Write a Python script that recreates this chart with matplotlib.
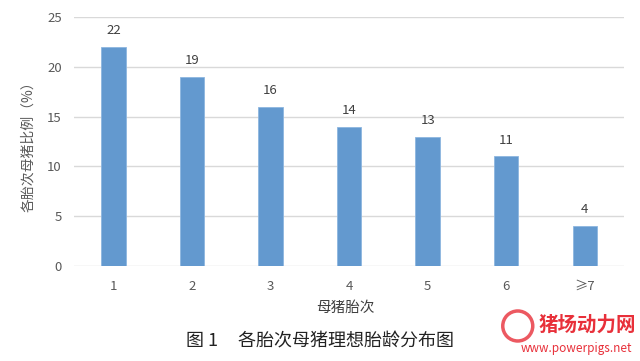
import numpy as np
import matplotlib.pyplot as plt
from matplotlib.patches import Ellipse

plt.rcParams['font.family'] = ['Noto Sans CJK SC', 'DejaVu Sans']

parity = ['1', '2', '3', '4', '5', '6', '≥7']
share = [22, 19, 16, 14, 13, 11, 4]

fig = plt.figure(figsize=(6.4, 3.61), dpi=100)
ax = fig.add_axes([0.116, 0.263, 0.859, 0.690])

x = np.arange(len(parity))
bars = ax.bar(x, share, width=0.31, color='#6399CF', edgecolor='#8DB6E0', linewidth=0.6, zorder=3)
for xi, v in zip(x, share):
    ax.annotate(str(v), (xi, v), xytext=(0, 7), textcoords='offset points',
                ha='center', va='bottom', fontsize=9.5, color='#404040')

ax.set_xlim(-0.5, len(parity) - 0.5)
ax.set_ylim(0, 25)
ax.set_yticks(np.arange(0, 26, 5))
ax.set_xticks(x)
ax.set_xticklabels(parity)
ax.grid(axis='y', color='#D9D9D9', linewidth=1, zorder=0)
for s in ax.spines.values():
    s.set_visible(False)
ax.tick_params(length=0, labelsize=9.5, colors='#595959', pad=10)
ax.tick_params(axis='y', pad=9)

fig.text(0.044, 0.604, '各胎次母猪比例（%）', rotation=90, ha='center', va='center',
         fontsize=10, color='#595959')
fig.text(0.54, 0.148, '母猪胎次', ha='center', va='center', fontsize=10.5, color='#404040')
fig.text(0.5, 0.053, '图 1     各胎次母猪理想胎龄分布图', ha='center', va='center',
         fontsize=13, color='#222222')

# watermark
fig.text(0.917, 0.1, '猪场动力网', ha='center', va='center', fontsize=14,
         fontweight='bold', color='#E8303A')
fig.text(0.900, 0.036, 'www.powerpigs.net', ha='center', va='center', fontsize=8.5,
         color='#E8303A')
fig.patches.append(Ellipse((0.809, 0.097), 30 / 640, 30 / 361, transform=fig.transFigure,
                           fill=False, edgecolor='#E8303A', linewidth=2.5, alpha=0.8))

fig.savefig('out.png', dpi=100)
